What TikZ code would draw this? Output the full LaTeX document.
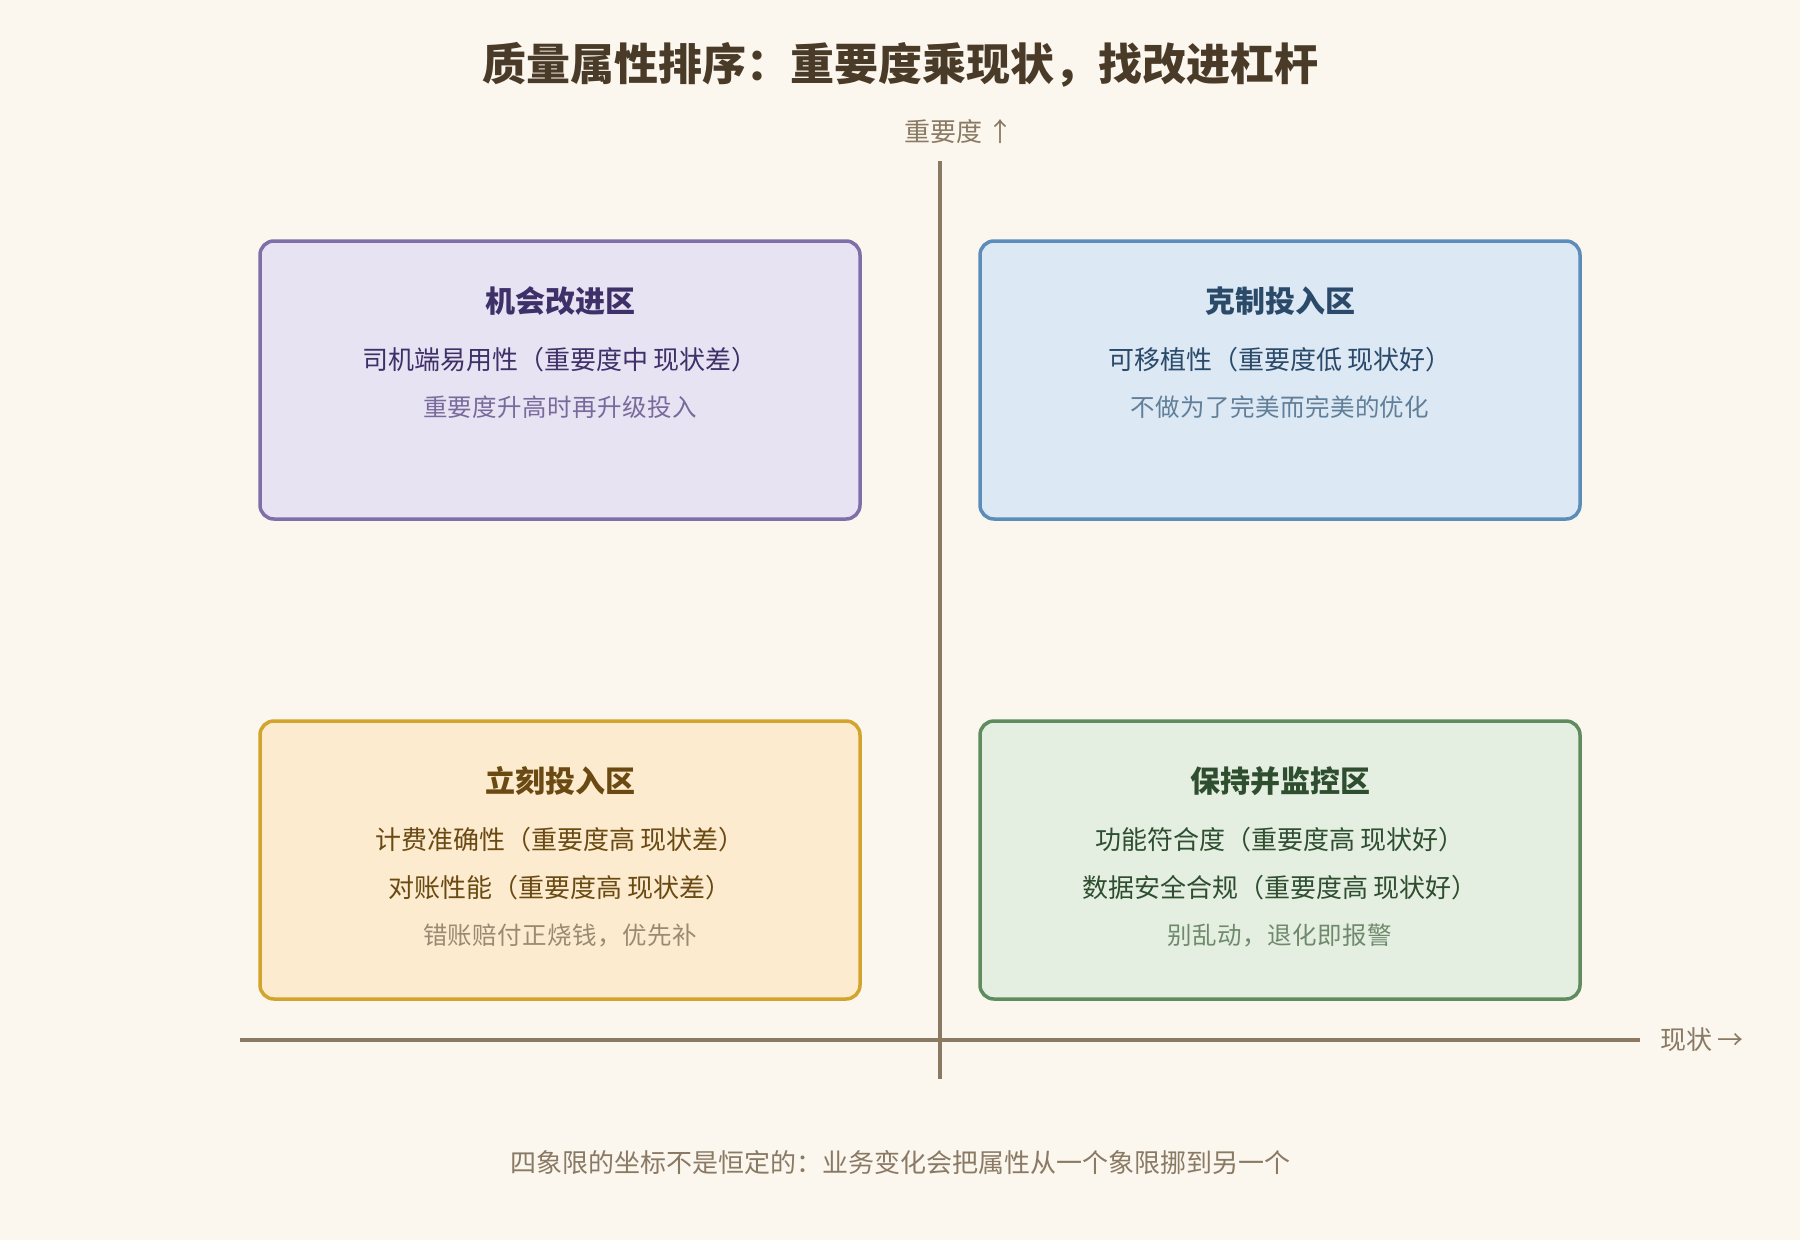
\documentclass[tikz,border=0pt]{standalone}
\usepackage{fontspec}
\setmainfont{Noto Sans CJK SC}
\IfFontExistsTF{Noto Sans CJK SC Black}{\newfontfamily\heavyfont{Noto Sans CJK SC Black}}{\newfontfamily\heavyfont{Noto Sans CJK SC}[UprightFont=*,UprightFeatures={FakeBold=1.5}]}
\usetikzlibrary{calc}
\definecolor{bg}{HTML}{FBF6EE}
\definecolor{titlec}{HTML}{4A3B28}
\definecolor{axisc}{HTML}{8A7A64}
\definecolor{fTL}{HTML}{E8E3F3}\definecolor{dTL}{HTML}{7E6FA8}\definecolor{tTL}{HTML}{3E3068}\definecolor{sTL}{HTML}{786A9C}
\definecolor{fTR}{HTML}{DCE8F4}\definecolor{dTR}{HTML}{5B8DBA}\definecolor{tTR}{HTML}{2B4A6A}\definecolor{sTR}{HTML}{617F99}
\definecolor{fBL}{HTML}{FCEBCF}\definecolor{dBL}{HTML}{D2A42C}\definecolor{tBL}{HTML}{6A4A12}\definecolor{sBL}{HTML}{998A72}
\definecolor{fBR}{HTML}{E4EFE2}\definecolor{dBR}{HTML}{5F8C5F}\definecolor{tBR}{HTML}{2E4E2F}\definecolor{sBR}{HTML}{6F8A6B}
\tikzset{
  quad/.style={draw, line width=3.5pt, rounded corners=14pt, minimum width=600pt, minimum height=278pt, inner sep=0pt},
  ttl/.style={font=\fontsize{30}{36}\selectfont\bfseries, inner sep=0pt},
  itm/.style={font=\fontsize{26}{30}\selectfont, inner sep=0pt},
  sub/.style={font=\fontsize{24.5}{30}\selectfont\addfontfeature{LetterSpace=1.8}, inner sep=0pt},
  axis/.style={draw=axisc, line width=3.5pt},
  axlabel/.style={font=\fontsize{26}{30}\selectfont, text=axisc, inner sep=0pt},
  bigtitle/.style={font=\fontsize{44}{50}\selectfont\heavyfont, text=titlec, inner sep=0pt},
  foot/.style={font=\fontsize{26}{30}\selectfont, text=axisc, inner sep=0pt}
}
\begin{document}
\begin{tikzpicture}[x=1pt,y=-1pt]
\useasboundingbox (0,0) rectangle (1800,1240);
\fill[bg] (0,0) rectangle (1800,1240);
\node[bigtitle] (title) at (900,65) {质量属性排序：重要度乘现状，找改进杠杆};
\coordinate (vtop) at (940,161);
\coordinate (vbot) at (940,1079);
\coordinate (hl) at (240,1040);
\coordinate (hr) at (1640,1040);
\draw[axis] (vtop) -- (vbot);
\draw[axis] (hl) -- (hr);
\node[axlabel] (ylab) at (959,132) {重要度 ↑};
\node[axlabel] (xlab) at (1702,1040) {现状 →};
% top-left
\node[quad, draw=dTL, fill=fTL] (q1) at (560,380) {};
\node[ttl, text=tTL] (q1t) at ($(q1.north)+(0,62)$) {机会改进区};
\node[itm, text=tTL] (q1a) at ($(q1.north)+(0,120)$) {司机端易用性（重要度中 现状差）};
\node[sub, text=sTL] (q1s) at ($(q1.north)+(0,168)$) {重要度升高时再升级投入};
% top-right
\node[quad, draw=dTR, fill=fTR] (q2) at (1280,380) {};
\node[ttl, text=tTR] (q2t) at ($(q2.north)+(0,62)$) {克制投入区};
\node[itm, text=tTR] (q2a) at ($(q2.north)+(0,120)$) {可移植性（重要度低 现状好）};
\node[sub, text=sTR] (q2s) at ($(q2.north)+(0,168)$) {不做为了完美而完美的优化};
% bottom-left
\node[quad, draw=dBL, fill=fBL] (q3) at (560,860) {};
\node[ttl, text=tBL] (q3t) at ($(q3.north)+(0,62)$) {立刻投入区};
\node[itm, text=tBL] (q3a) at ($(q3.north)+(0,120)$) {计费准确性（重要度高 现状差）};
\node[itm, text=tBL] (q3b) at ($(q3.north)+(0,168)$) {对账性能（重要度高 现状差）};
\node[sub, text=sBL] (q3s) at ($(q3.north)+(0,216)$) {错账赔付正烧钱，优先补};
% bottom-right
\node[quad, draw=dBR, fill=fBR] (q4) at (1280,860) {};
\node[ttl, text=tBR] (q4t) at ($(q4.north)+(0,62)$) {保持并监控区};
\node[itm, text=tBR] (q4a) at ($(q4.north)+(0,120)$) {功能符合度（重要度高 现状好）};
\node[itm, text=tBR] (q4b) at ($(q4.north)+(0,168)$) {数据安全合规（重要度高 现状好）};
\node[sub, text=sBR] (q4s) at ($(q4.north)+(0,216)$) {别乱动，退化即报警};
\node[foot] (footer) at (900,1163) {四象限的坐标不是恒定的：业务变化会把属性从一个象限挪到另一个};
\end{tikzpicture}
\end{document}
